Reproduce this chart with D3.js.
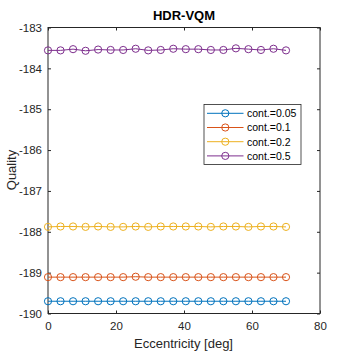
<!DOCTYPE html>
<html><head><meta charset="utf-8">
<script src="https://cdn.jsdelivr.net/npm/d3@7"></script>
<style>body{margin:0;background:#fff}svg{display:block}text{font-family:"Liberation Sans",Arial,sans-serif}</style>
</head><body><svg id="c" width="354" height="354"></svg>
<script>
const eccentricity = d3.range(20).map(i => i * 70 / 19);
const seriesNames = ["cont.=0.05", "cont.=0.1", "cont.=0.2", "cont.=0.5"];
const colors = ["#0072BD", "#D95319", "#EDB120", "#7E2F8E"];
const q005 = [-189.70,-189.70,-189.70,-189.70,-189.70,-189.70,-189.70,-189.70,-189.70,-189.70,-189.70,-189.70,-189.70,-189.70,-189.70,-189.70,-189.70,-189.70,-189.70,-189.70];
const q01  = [-189.11,-189.11,-189.11,-189.11,-189.11,-189.11,-189.11,-189.10,-189.11,-189.11,-189.11,-189.11,-189.11,-189.11,-189.11,-189.11,-189.11,-189.11,-189.11,-189.11];
const q02  = [-187.88,-187.87,-187.87,-187.88,-187.87,-187.88,-187.88,-187.87,-187.88,-187.87,-187.87,-187.87,-187.87,-187.88,-187.87,-187.87,-187.88,-187.87,-187.87,-187.88];
const q05  = [-183.56,-183.56,-183.53,-183.57,-183.54,-183.55,-183.55,-183.52,-183.56,-183.55,-183.52,-183.53,-183.53,-183.55,-183.55,-183.51,-183.53,-183.55,-183.52,-183.56];
const seriesValues = [q005, q01, q02, q05];
const xTicks = [0, 20, 40, 60, 80];
const yTicks = [-190, -189, -188, -187, -186, -185, -184, -183];

const svg = d3.select("#c");
const L = 48, R = 320, T = 27.5, B = 313.5;
const x = d3.scaleLinear().domain([0, 80]).range([L, R]);
const y = d3.scaleLinear().domain([-190, -183]).range([B, T]);

svg.append("rect").attr("x", 0).attr("y", 0).attr("width", 354).attr("height", 354).attr("fill", "#fff");

const fs = 11.5;
const ax = (g) => g.call(s => s.select(".domain").remove()).call(s => s.selectAll("line").attr("stroke", "#262626")).call(s => s.selectAll("text").attr("fill", "#262626").attr("font-size", fs));
svg.append("g").attr("transform", `translate(0,${B})`).call(d3.axisBottom(x).tickValues(xTicks).tickSizeInner(-3).tickSizeOuter(0).tickPadding(8)).call(ax);
svg.append("g").attr("transform", `translate(0,${T})`).call(d3.axisTop(x).tickValues(xTicks).tickSizeInner(-3).tickSizeOuter(0).tickFormat("")).call(ax);
svg.append("g").attr("transform", `translate(${L},0)`).call(d3.axisLeft(y).tickValues(yTicks).tickSizeInner(-3).tickSizeOuter(0).tickPadding(6).tickFormat(d => d.toString())).call(ax);
svg.append("g").attr("transform", `translate(${R},0)`).call(d3.axisRight(y).tickValues(yTicks).tickSizeInner(-3).tickSizeOuter(0).tickFormat("")).call(ax);
svg.append("rect").attr("x", L).attr("y", T).attr("width", R - L).attr("height", B - T).attr("fill", "none").attr("stroke", "#262626").attr("stroke-width", 1);

const line = d3.line().x((d, i) => x(eccentricity[i])).y(d => y(d));
seriesValues.forEach((vals, k) => {
  svg.append("path").datum(vals).attr("d", line).attr("fill", "none").attr("stroke", colors[k]).attr("stroke-width", 1);
  svg.append("g").selectAll("circle").data(vals).join("circle")
    .attr("cx", (d, i) => x(eccentricity[i])).attr("cy", d => y(d)).attr("r", 3.6)
    .attr("fill", "none").attr("stroke", colors[k]).attr("stroke-width", 1);
});

// legend
const lg = svg.append("g");
lg.append("rect").attr("x", 204).attr("y", 104.5).attr("width", 97).attr("height", 60).attr("fill", "#fff").attr("stroke", "#262626").attr("stroke-width", 0.8);
seriesNames.forEach((n, k) => {
  const yy = 113.3 + k * 14.2;
  lg.append("line").attr("x1", 207).attr("x2", 243.5).attr("y1", yy).attr("y2", yy).attr("stroke", colors[k]).attr("stroke-width", 1);
  lg.append("circle").attr("cx", 225.3).attr("cy", yy).attr("r", 3.6).attr("fill", "none").attr("stroke", colors[k]);
  lg.append("text").attr("x", 247).attr("y", yy + 3.9).attr("font-size", 10.5).attr("fill", "#000").text(n);
});

svg.append("text").attr("x", 184).attr("y", 19.5).attr("text-anchor", "middle").attr("font-size", 13).attr("font-weight", "bold").attr("fill", "#000").text("HDR-VQM");
svg.append("text").attr("x", 183.5).attr("y", 348).attr("text-anchor", "middle").attr("font-size", 13).attr("fill", "#262626").text("Eccentricity [deg]");
svg.append("text").attr("transform", "translate(16,170) rotate(-90)").attr("text-anchor", "middle").attr("font-size", 13).attr("fill", "#262626").text("Quality");
</script></body></html>
